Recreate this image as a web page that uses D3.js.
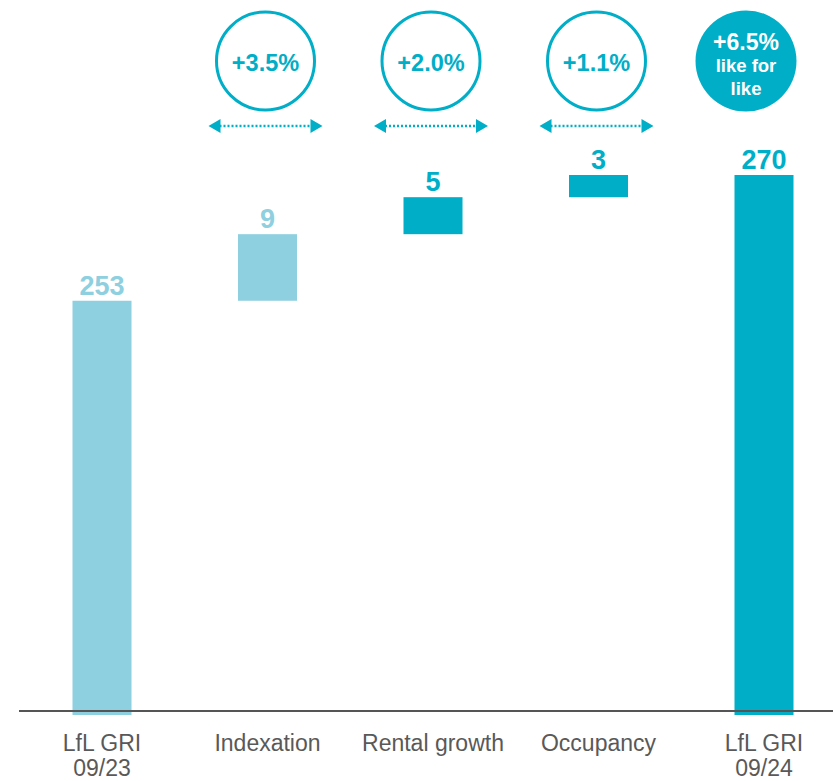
<!DOCTYPE html>
<html>
<head>
<meta charset="utf-8">
<script src="https://cdn.jsdelivr.net/npm/d3@7"></script>
<style>
  html, body { margin: 0; padding: 0; background: #fff; }
  svg { display: block; font-family: "Liberation Sans", Arial, sans-serif; }
</style>
</head>
<body>
<svg id="chart"></svg>
<script>
// chart data
var categories = ["LfL GRI 09/23", "Indexation", "Rental growth", "Occupancy", "LfL GRI 09/24"];
var categoryLines = [["LfL GRI", "09/23"], ["Indexation"], ["Rental growth"], ["Occupancy"], ["LfL GRI", "09/24"]];
var values = [253, 9, 5, 3, 270];
var isTotal = [true, false, false, false, true];
var growthCategories = ["Indexation", "Rental growth", "Occupancy"];
var growthLabels = ["+3.5%", "+2.0%", "+1.1%"];
var totalGrowthLines = ["+6.5%", "like for", "like"];

(function() {
    var width = 833, height = 781;
    var light = "#8ecfe0", teal = "#00aec7";

    var svg = d3.select("#chart")
        .attr("width", width)
        .attr("height", height);

    // waterfall: compute start / end of each bar
    var running = 0;
    var data = categories.map(function(c, i) {
        var d = { cat: c, value: values[i], total: isTotal[i], lines: categoryLines[i] };
        if (d.total) { d.y0 = null; d.y1 = values[i]; running = values[i]; }
        else { d.y0 = running; d.y1 = running + values[i]; running = d.y1; }
        return d;
    });

    var xScale = d3.scalePoint()
        .domain(categories)
        .range([102, 764]);

    var barWidth = 59;

    // the value axis does not start at zero
    var yScale = d3.scaleLinear()
        .domain([197, 270])
        .range([715, 175]);

    var colorScale = d3.scaleOrdinal()
        .domain(categories)
        .range([light, light, teal, teal, teal]);

    // bars
    svg.selectAll("rect.bar")
        .data(data)
        .enter()
        .append("rect")
        .attr("class", "bar")
        .attr("x", d => xScale(d.cat) - barWidth / 2)
        .attr("width", barWidth)
        .attr("y", d => yScale(d.y1))
        .attr("height", d => (d.total ? yScale.range()[0] : yScale(d.y0)) - yScale(d.y1))
        .attr("fill", d => colorScale(d.cat));

    // baseline
    svg.append("line")
        .attr("x1", 19)
        .attr("x2", width)
        .attr("y1", 711)
        .attr("y2", 711)
        .attr("stroke", "#555")
        .attr("stroke-width", 2);

    // value labels
    svg.selectAll("text.value")
        .data(data)
        .enter()
        .append("text")
        .attr("class", "value")
        .attr("x", d => xScale(d.cat))
        .attr("y", d => yScale(d.y1) - 6)
        .attr("text-anchor", "middle")
        .attr("font-size", 27)
        .attr("font-weight", "bold")
        .attr("fill", d => colorScale(d.cat))
        .text(d => d.value);

    // category labels
    var catText = svg.selectAll("text.cat")
        .data(data)
        .enter()
        .append("text")
        .attr("class", "cat")
        .attr("text-anchor", "middle")
        .attr("font-size", 23)
        .attr("fill", "#595959");

    catText.selectAll("tspan")
        .data(d => d.lines.map(l => ({ l: l, x: xScale(d.cat) })))
        .enter()
        .append("tspan")
        .attr("x", d => d.x)
        .attr("y", (d, i) => 751 + i * 25)
        .text(d => d.l);

    // growth circles with dotted arrows
    var g = svg.selectAll("g.growth")
        .data(growthCategories)
        .enter()
        .append("g")
        .attr("class", "growth")
        .attr("transform", d => `translate(${xScale(d) - 2}, 0)`);

    g.append("circle")
        .attr("cx", 0)
        .attr("cy", 61)
        .attr("r", 49)
        .attr("fill", "#fff")
        .attr("stroke", teal)
        .attr("stroke-width", 3);

    g.append("text")
        .attr("x", 0)
        .attr("y", 71)
        .attr("text-anchor", "middle")
        .attr("font-size", 23.5)
        .attr("font-weight", "bold")
        .attr("fill", teal)
        .text((d, i) => growthLabels[i]);

    g.append("line")
        .attr("x1", -46)
        .attr("x2", 46)
        .attr("y1", 126)
        .attr("y2", 126)
        .attr("stroke", teal)
        .attr("stroke-width", 2.5)
        .attr("stroke-dasharray", "2,2");

    g.append("path")
        .attr("d", "M-57,126 L-45,119 L-45,133 Z")
        .attr("fill", teal);

    g.append("path")
        .attr("d", "M57,126 L45,119 L45,133 Z")
        .attr("fill", teal);

    // total growth bubble
    var cx = xScale(categories[4]) - 18;
    svg.append("circle")
        .attr("cx", cx)
        .attr("cy", 61)
        .attr("r", 50.5)
        .attr("fill", teal);

    svg.selectAll("text.total")
        .data(totalGrowthLines)
        .enter()
        .append("text")
        .attr("class", "total")
        .attr("x", cx)
        .attr("y", (d, i) => [50, 72, 95][i])
        .attr("text-anchor", "middle")
        .attr("font-size", (d, i) => i === 0 ? 23 : 18.5)
        .attr("font-weight", "bold")
        .attr("fill", "#fff")
        .text(d => d);
})();
</script>
</body>
</html>
